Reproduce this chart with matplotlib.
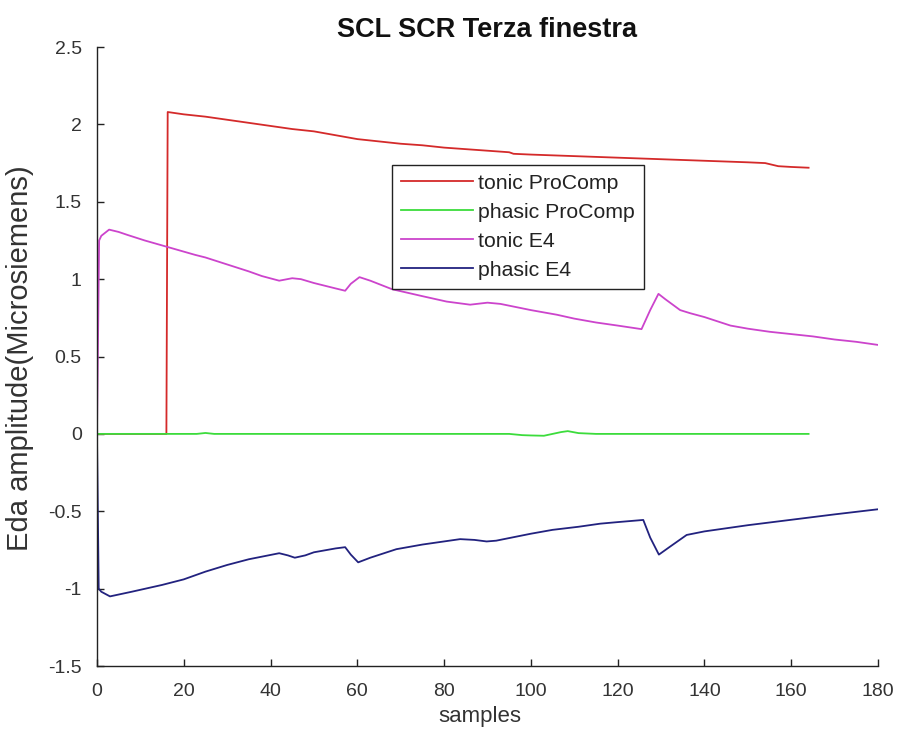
import matplotlib
matplotlib.use("Agg")
import matplotlib.pyplot as plt

plt.rcParams['font.family'] = ['Liberation Sans', 'DejaVu Sans']
plt.rcParams['axes.unicode_minus'] = False

# tonic ProComp
tonic_pc_x = [0, 16, 16.3, 20, 25, 30, 35, 40, 45, 50, 55, 60, 65, 70, 75, 80, 85, 90,
              95, 96, 100, 110, 120, 130, 140, 150, 154, 157, 160, 164]
tonic_pc_y = [0, 0, 2.08, 2.065, 2.05, 2.03, 2.01, 1.99, 1.97, 1.955, 1.93, 1.905, 1.89,
              1.875, 1.865, 1.85, 1.84, 1.83, 1.82, 1.81, 1.805, 1.795, 1.785, 1.775,
              1.765, 1.755, 1.75, 1.73, 1.725, 1.72]

# phasic ProComp
phasic_pc_x = [0, 23, 25, 27, 95, 98, 100, 103, 105, 107, 108.5, 111, 115, 164]
phasic_pc_y = [0, 0, 0.006, 0, 0, -0.008, -0.01, -0.012, 0.0, 0.012, 0.018, 0.005, 0, 0]

# tonic E4
tonic_e4_x = [0, 0.5, 1, 2.8, 5, 7, 11, 16, 22.6, 25, 30, 35, 38, 42, 45, 47, 50, 55,
              57.2, 58.5, 60.5, 63, 68, 75, 80.6, 86, 90, 93, 100, 106, 110, 115, 120,
              125.5, 127.5, 129.4, 131, 134.4, 136.7, 140, 146, 150, 155, 160, 165, 170,
              175, 180]
tonic_e4_y = [0, 1.25, 1.28, 1.32, 1.305, 1.286, 1.25, 1.21, 1.157, 1.14, 1.095, 1.05,
              1.02, 0.99, 1.006, 1.0, 0.975, 0.94, 0.925, 0.97, 1.013, 0.99, 0.935,
              0.89, 0.855, 0.835, 0.848, 0.84, 0.80, 0.77, 0.745, 0.72, 0.70, 0.677,
              0.80, 0.905, 0.87, 0.80, 0.78, 0.755, 0.70, 0.68, 0.66, 0.645, 0.63,
              0.61, 0.595, 0.575]

# phasic E4
phasic_e4_x = [0, 0.4, 1, 3, 8, 15, 20, 25, 30, 35, 42, 44, 45.6, 48, 50, 55, 57.2,
               58.5, 60.2, 63, 69, 75, 83.7, 87, 89.8, 92, 100, 105, 111, 116, 120,
               125.9, 127.5, 129.5, 132, 135.9, 140, 150, 160, 170, 180]
phasic_e4_y = [0, -1.0, -1.02, -1.05, -1.02, -0.976, -0.94, -0.89, -0.847, -0.81,
               -0.771, -0.785, -0.80, -0.785, -0.765, -0.74, -0.732, -0.78, -0.83,
               -0.8, -0.745, -0.715, -0.68, -0.685, -0.695, -0.69, -0.645, -0.62,
               -0.60, -0.58, -0.57, -0.556, -0.67, -0.78, -0.73, -0.653, -0.63,
               -0.59, -0.555, -0.52, -0.487]

series_labels = ['tonic ProComp', 'phasic ProComp', 'tonic E4', 'phasic E4']
x_ticks = [0, 20, 40, 60, 80, 100, 120, 140, 160, 180]
y_ticks = [-1.5, -1, -0.5, 0, 0.5, 1, 1.5, 2, 2.5]
y_tick_labels = ['-1.5', '-1', '-0.5', '0', '0.5', '1', '1.5', '2', '2.5']

fig = plt.figure(figsize=(9.02, 7.44), dpi=100)
ax = fig.add_axes([0.1075, 0.1048, 0.8659, 0.832])

lw = 1.3
ax.plot(tonic_pc_x, tonic_pc_y, color='#d42a2a', lw=lw, label=series_labels[0])
ax.plot(phasic_pc_x, phasic_pc_y, color='#3cdc3c', lw=lw, label=series_labels[1])
ax.plot(tonic_e4_x, tonic_e4_y, color='#cc44cc', lw=lw, label=series_labels[2])
ax.plot(phasic_e4_x, phasic_e4_y, color='#22227f', lw=lw, label=series_labels[3])

ax.set_xlim(0, 180)
ax.set_ylim(-1.5, 2.5)
ax.set_xticks(x_ticks)
ax.set_xticklabels([str(t) for t in x_ticks])
ax.set_yticks(y_ticks)
ax.set_yticklabels(y_tick_labels)

for side in ('top', 'right'):
    ax.spines[side].set_visible(False)
for side in ('left', 'bottom'):
    ax.spines[side].set_color('#222222')
    ax.spines[side].set_linewidth(1.0)

ax.tick_params(direction='in', length=5, width=1.0, colors='#222222',
               labelcolor='#333333', labelsize=14)
ax.tick_params(axis='x', pad=12)
ax.tick_params(axis='y', pad=11)

ax.set_xlabel('samples', fontsize=16, color='#333333')
ax.xaxis.set_label_coords(0.49, -0.064, transform=ax.transAxes)
ax.xaxis.label.set_va('top')
ax.set_ylabel('Eda amplitude(Microsiemens)', fontsize=21, color='#333333')
ax.yaxis.set_label_coords(-0.08, 0.497)
ax.set_title('SCL SCR Terza finestra', fontsize=19.5, fontweight='bold', color='#111111',
             pad=7)

leg = ax.legend(loc='upper left', bbox_to_anchor=(0.3777, 0.8094), borderaxespad=0,
                fontsize=15.3, frameon=True, fancybox=False, framealpha=1,
                edgecolor='#222222', handlelength=3.4, handletextpad=0.25,
                labelspacing=0.47, borderpad=0.42)
leg.get_frame().set_linewidth(1.0)
for t in leg.get_texts():
    t.set_color('#222222')

fig.savefig('out.png', dpi=100)
